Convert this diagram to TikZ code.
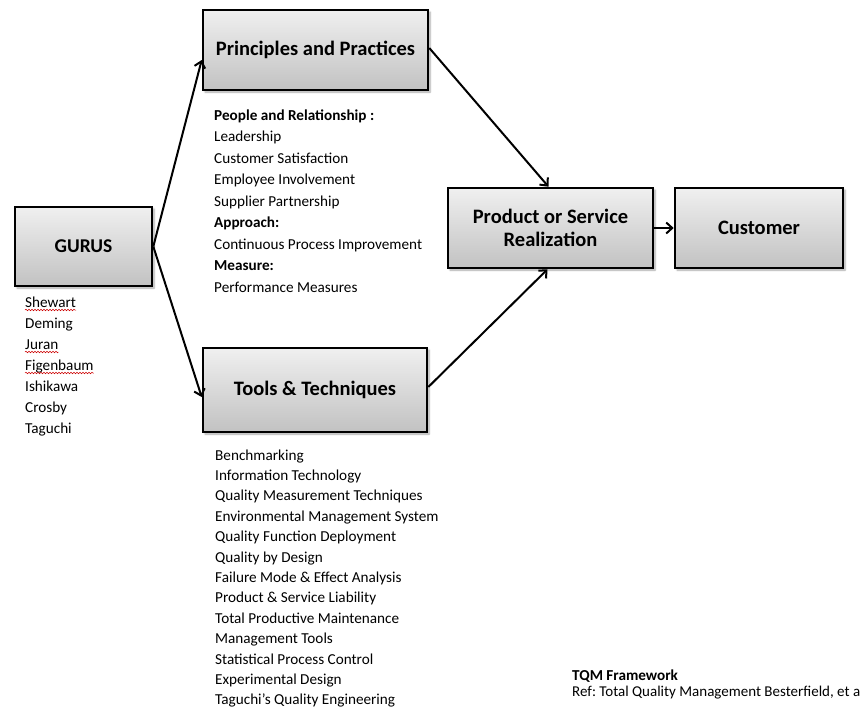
\documentclass[tikz,border=0pt]{standalone}
\usepackage{fontspec}
\setmainfont{Carlito}
\usetikzlibrary{arrows.meta,shadows.blur,decorations.pathmorphing}
\frenchspacing

\tikzset{
  stagebox/.style={draw=black, line width=2.6pt, top color=white!94!black,
    bottom color=white!76!black, font=\fontsize{20.5}{23}\selectfont\bfseries,
    align=center, inner sep=2pt,
    blur shadow={shadow xshift=2pt, shadow yshift=-2pt, shadow blur steps=6, shadow opacity=35}},
  flow/.style={line width=2pt, -{Straight Barb[length=6pt,width=11pt,line width=2pt]}},
  item/.style={anchor=base west, inner sep=0pt, font=\fontsize{15.2}{18}\selectfont},
  itemhead/.style={item, font=\fontsize{15.2}{18}\selectfont\bfseries},
  spellmark/.style={draw=red!80!black, line width=0.5pt,
    decorate, decoration={snake, amplitude=0.8pt, segment length=3pt}}
}

\begin{document}
\begin{tikzpicture}[x=1pt, y=-1pt]
  \useasboundingbox (0,0) rectangle (865,715);

  % stage boxes
  \node[stagebox, minimum width=137pt, minimum height=79pt,
        font=\fontsize{19.5}{22}\selectfont\bfseries] (gurus) at (83.5,246.5) {GURUS};
  \node[stagebox, minimum width=225pt, minimum height=80pt] (pp) at (315.5,50) {Principles and Practices};
  \node[stagebox, minimum width=224pt, minimum height=84pt] (tt) at (315,390) {Tools \& Techniques};
  \node[stagebox, minimum width=205pt, minimum height=80pt] (prod) at (550.5,228) {Product or Service\\Realization};
  \node[stagebox, minimum width=168pt, minimum height=80pt] (cust) at (759,228) {Customer};

  % connectors
  \draw[flow] (gurus.east) -- ([yshift=-10pt]pp.west);
  \draw[flow] (gurus.east) -- ([yshift=-7pt]tt.west);
  \draw[flow] ([yshift=2pt]pp.east) -- ([xshift=-2pt]prod.north);
  \draw[flow] ([yshift=3pt]tt.east) -- ([xshift=-3pt]prod.south);
  \draw[flow] (prod.east) -- (cust.west);

  % list under GURUS
  \foreach \name [count=\i from 0] in {Shewart,Deming,Juran,Figenbaum,Ishikawa,Crosby,Taguchi}
    \node[item] (guru\i) at (25,{307+21*\i}) {\name};
  \foreach \i in {0,2,3}
    \draw[spellmark] ([yshift=-3pt]guru\i.base west) -- ([yshift=-3pt]guru\i.base east);

  % list under Principles and Practices
  \node[itemhead] (ppA) at (214,120) {People and Relationship :};
  \node[item] (ppB) at (214,141.5) {Leadership};
  \node[item] (ppC) at (214,163) {Customer Satisfaction};
  \node[item] (ppD) at (214,184.5) {Employee Involvement};
  \node[item] (ppE) at (214,206) {Supplier Partnership};
  \node[itemhead] (ppF) at (214,227.5) {Approach:};
  \node[item] (ppG) at (214,249) {Continuous Process Improvement};
  \node[itemhead] (ppH) at (214,270.5) {Measure:};
  \node[item] (ppI) at (214,292) {Performance Measures};

  % list under Tools & Techniques
  \foreach \txt [count=\i from 0] in {Benchmarking,Information Technology,
      Quality Measurement Techniques,Environmental Management System,
      Quality Function Deployment,Quality by Design,Failure Mode \& Effect Analysis,
      Product \& Service Liability,Total Productive Maintenance,Management Tools,
      Statistical Process Control,Experimental Design,Taguchi’s Quality Engineering}
    \node[item] (tool\i) at (215,{460+20.4*\i}) {\txt};

  % caption
  \node[itemhead, font=\fontsize{15.2}{17}\selectfont\bfseries] (cap) at (572,680) {TQM Framework};
  \node[item, font=\fontsize{15}{17}\selectfont] (ref) at (572,696) {Ref: Total Quality Management Besterfield, et a};
\end{tikzpicture}
\end{document}
